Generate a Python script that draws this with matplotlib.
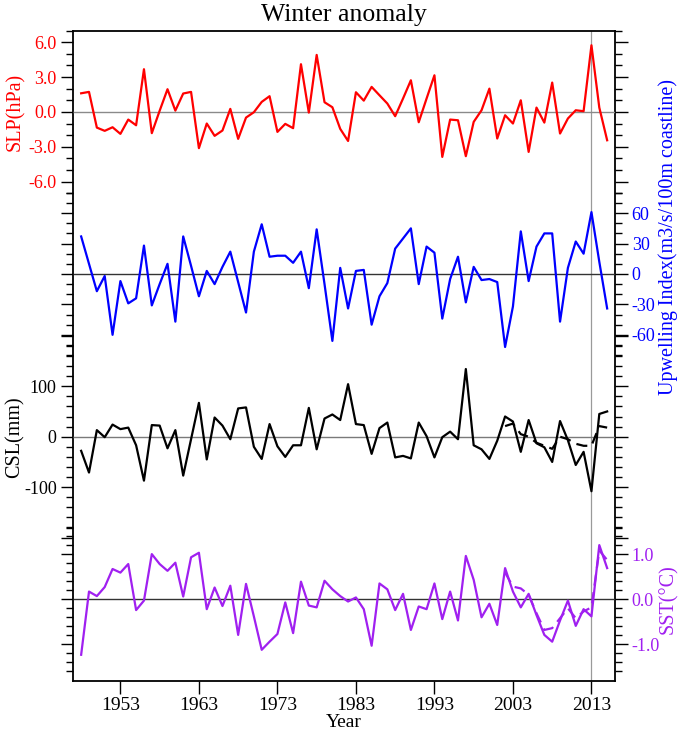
import matplotlib
matplotlib.use('Agg')
import matplotlib.pyplot as plt
import matplotlib.transforms as mtransforms
import numpy as np

plt.rcParams['font.family'] = ['Liberation Serif', 'DejaVu Serif']
plt.rcParams['axes.unicode_minus'] = False

years = np.arange(1948, 2016)

slp = [1.6, 1.72, -1.35, -1.63, -1.32, -1.89, -0.66, -1.15, 3.67, -1.83,
       0.1, 1.95, 0.11, 1.58, 1.72, -3.12, -1.0, -2.06, -1.6, 0.26,
       -2.32, -0.49, -0.03, 0.86, 1.35, -1.72, -1.03, -1.4, 4.1, -0.06,
       4.9, 0.83, 0.4, -1.46, -2.5, 1.69, 0.97, 2.15, 1.43, 0.72,
       -0.37, 1.15, 2.72, -0.89, 1.15, 3.15, -3.87, -0.66, -0.72, -3.81,
       -0.86, 0.14, 2.0, -2.29, -0.29, -1.0, 1.0, -3.44, 0.37, -0.92,
       2.52, -1.86, -0.57, 0.14, 0.06, 5.73, 0.37, -2.44]

upwelling = [37, 10, -17, -2, -60, -7, -29, -24, 28, -31,
             -10, 10, -47, 37, 8, -22, 3, -10, 7, 22,
             -8, -38, 22, 49, 17, 18, 18, 11, 22, -14,
             44, -10, -66, 6, -34, 3, 4, -50, -22, -9,
             25, 35, 45, -10, 27, 21, -44, -5, 17, -28,
             7, -6, -5, -8, -72, -32, 42, -7, 27, 40,
             40, -47, 6, 32, 20, 61, 12, -34]

csl = [-28, -71, 13, -1, 24, 15, 18, -17, -87, 23,
       22, -23, 13, -77, -5, 67, -45, 38, 22, -5,
       56, 58, -20, -44, 25, -19, -40, -17, -17, 57,
       -25, 36, 44, 33, 104, 25, 23, -34, 17, 28,
       -41, -38, -43, 28, 1, -41, -1, 10, -5, 134,
       -17, -25, -44, -8, 40, 30, -30, 33, -13, -21,
       -50, 31, -7, -56, -30, -108, 45, 50]

sst = [-1.23, 0.17, 0.07, 0.27, 0.67, 0.59, 0.78, -0.24, -0.03, 1.0,
       0.78, 0.63, 0.81, 0.06, 0.93, 1.03, -0.22, 0.26, -0.15, 0.30,
       -0.79, 0.34, -0.38, -1.12, -0.94, -0.77, -0.07, -0.75, 0.39, -0.14,
       -0.18, 0.41, 0.22, 0.07, -0.05, 0.04, -0.22, -1.03, 0.35, 0.22,
       -0.24, 0.12, -0.68, -0.16, -0.22, 0.35, -0.44, 0.17, -0.47, 0.96,
       0.43, -0.40, -0.10, -0.57, 0.69, 0.17, -0.18, 0.12, -0.35, -0.79,
       -0.94, -0.47, -0.03, -0.59, -0.22, -0.38, 1.20, 0.69]

# dashed curves over the recent period
dash_years = np.arange(2002, 2016)
csl_dash = [21, 26, 5, 0, -12, -18, -24, 0, -5, -14, -18, -18, 21, 18]
sst_dash = [0.59, 0.28, 0.24, 0.10, -0.31, -0.68, -0.64, -0.42, -0.20,
            -0.42, -0.27, -0.18, 1.08, 0.87]

xticks = [1953, 1963, 1973, 1983, 1993, 2003, 2013]

W, H = 685, 734
fig = plt.figure(figsize=(W / 100, H / 100), dpi=100)
left, right, top, bottom = 73.3, 615.0, 30.5, 680.5
pos = [left / W, 1 - bottom / H, (right - left) / W, (bottom - top) / H]

# base axes: frame, x axis, reference line
ax0 = fig.add_axes(pos)
ax0.set_xlim(1947, 2016)
ax0.set_ylim(0, 1)
ax0.set_yticks([])
ax0.set_xticks(xticks, [str(y) for y in xticks])
ax0.tick_params(axis='x', direction='out', length=9, width=1.0, labelsize=14, pad=3)
for s in ax0.spines.values():
    s.set_linewidth(1.3)
ax0.axvline(2013, color='#9a9a9a', lw=0.9, zorder=1)
ax0.set_xlabel('Year', fontsize=14, labelpad=0)
fig.text(0.5 * (left + right) / W, 1 - 21 / H, 'Winter anomaly', ha='center', va='baseline', fontsize=18.5)

purple = '#a020f0'
panels = [
    dict(y=slp, c='red', lim=(-48.9, 6.98), zc='#8a8a8a',
         major=[6, 3, 0, -3, -6], labels=['6.0', '3.0', '0.0', '-3.0', '-6.0'],
         minor=np.arange(-7, 7.5, 1), side='left', name='SLP(hPa)', ly=0),
    dict(y=upwelling, c='blue', lim=(-400.9, 240.1), zc='#333333',
         major=[60, 30, 0, -30, -60], labels=['60', '30', '0', '-30', '-60'],
         minor=np.arange(-80, 85, 10), side='right',
         name='Upwelling Index(m3/s/100m coastline)', ly=36),
    dict(y=csl, c='black', lim=(-482.8, 804.4), zc='#7a7a7a',
         major=[200, 100, 0, -100, -200], labels=['', '100', '0', '-100', ''],
         minor=np.arange(-200, 205, 20), side='left', name='CSL(mm)', ly=0),
    dict(y=sst, c=purple, lim=(-1.80, 12.6), zc='#333333',
         major=[1.0, 0.0, -1.0], labels=['1.0', '0.0', '-1.0'],
         minor=np.arange(-1.6, 1.7, 0.2), side='right', name='SST(°C)', ly=0),
]

for p in panels:
    ax = fig.add_axes(pos, sharex=ax0)
    ax.patch.set_alpha(0)
    for s in ax.spines.values():
        s.set_visible(False)
    ax.set_ylim(*p['lim'])
    ax.axhline(0, color=p['zc'], lw=1.0, zorder=1)
    ax.plot(years, p['y'], color=p['c'], lw=1.6, zorder=3)
    ax.set_yticks(p['major'], p['labels'])
    ax.set_yticks(p['minor'], minor=True)
    ax.tick_params(axis='x', which='both', bottom=False, labelbottom=False)
    ax.tick_params(axis='y', which='both', direction='out', left=True, right=True,
                   labelleft=(p['side'] == 'left'), labelright=(p['side'] == 'right'),
                   labelcolor=p['c'], labelsize=13, pad=3)
    ax.tick_params(axis='y', which='major', length=9, width=1.0)
    ax.tick_params(axis='y', which='minor', length=5, width=1.0)
    tr = mtransforms.blended_transform_factory(fig.transFigure, ax.transData)
    lx = 15 / W if p['side'] == 'left' else 668 / W
    ax.text(lx, p['ly'], p['name'], transform=tr, rotation=90, ha='center', va='center',
            color=p['c'], fontsize=14.5)
    p['ax'] = ax

panels[2]['ax'].plot(dash_years, csl_dash, color='black', lw=1.6, ls=(0, (5, 3)), zorder=3)
panels[3]['ax'].plot(dash_years, sst_dash, color=purple, lw=1.6, ls=(0, (5, 3)), zorder=3)

fig.savefig('out.png', dpi=100)
